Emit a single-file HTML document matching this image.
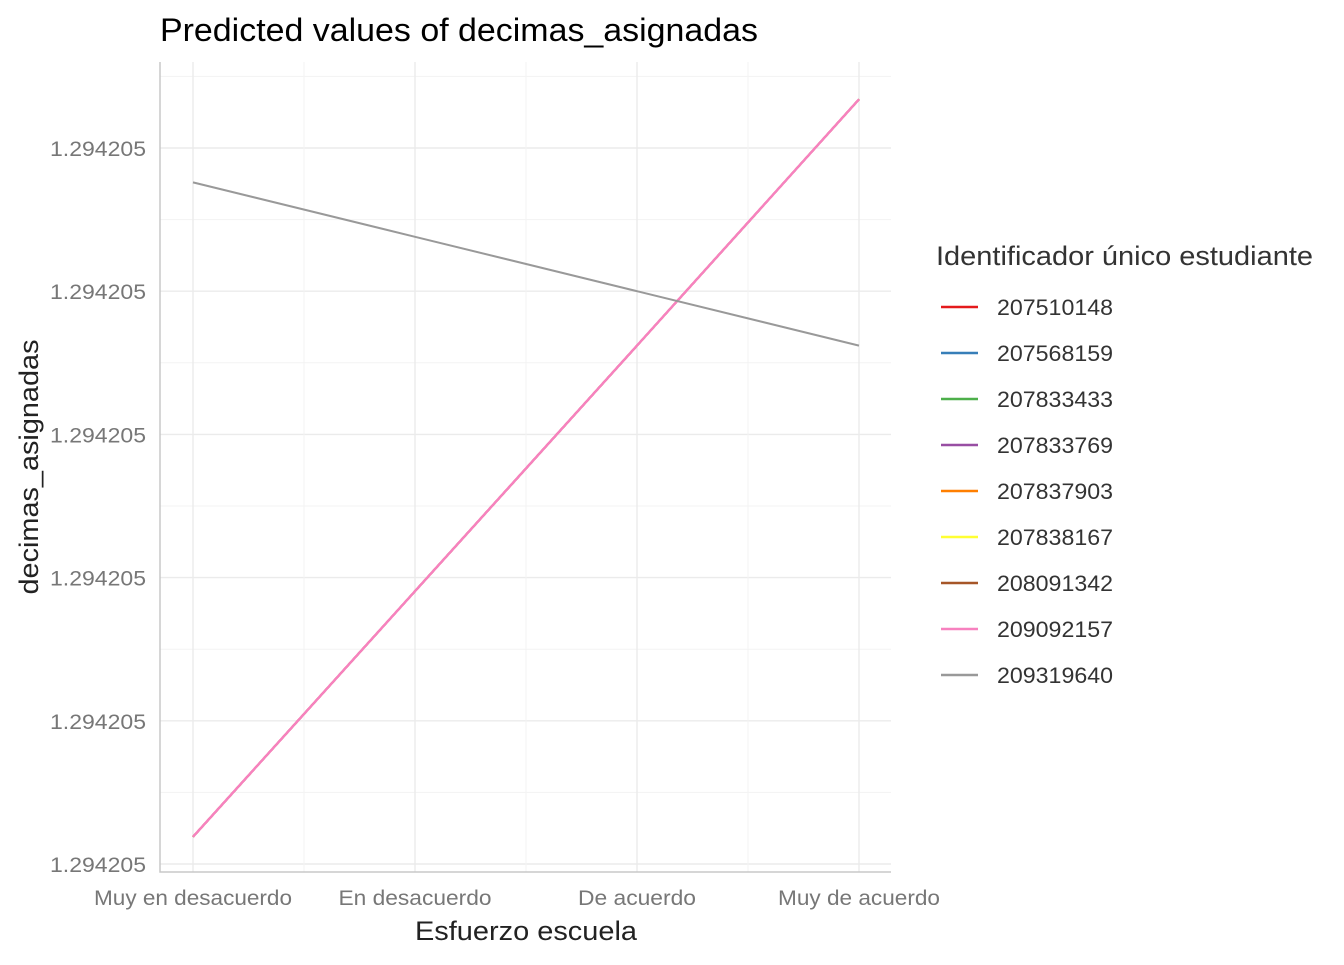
<!DOCTYPE html>
<html><head><meta charset="utf-8"><style>
body{margin:0;background:#fff;font-family:"Liberation Sans",Arial,sans-serif}
svg text{font-family:"Liberation Sans",Arial,sans-serif}
</style></head><body>
<svg id="c" width="1344" height="960" xmlns="http://www.w3.org/2000/svg">
<text x="160" y="41" font-size="32" fill="#000" textLength="598" lengthAdjust="spacingAndGlyphs">Predicted values of decimas_asignadas</text>
<g id="grid"></g>
<g id="axes"></g>
<g id="lines"></g>
<text x="526" y="940" font-size="27" fill="#222" text-anchor="middle" textLength="222" lengthAdjust="spacingAndGlyphs">Esfuerzo escuela</text>
<text transform="translate(38,467) rotate(-90)" font-size="27" fill="#222" text-anchor="middle" textLength="255" lengthAdjust="spacingAndGlyphs">decimas_asignadas</text>
<g id="legend">
<text x="936" y="265" font-size="27" fill="#333" textLength="377" lengthAdjust="spacingAndGlyphs">Identificador único estudiante</text>
</g>
</svg>
<script>
const categories=["Muy en desacuerdo","En desacuerdo","De acuerdo","Muy de acuerdo"];
const categoryWidths=[198,153,118,162];
const yTicks=[0,1,2,3,4,5];
const yTickLabels=["1.294205","1.294205","1.294205","1.294205","1.294205","1.294205"];
const seriesIds=["207510148","207568159","207833433","207833769","207837903","207838167","208091342","209092157","209319640"];
const seriesColors=["#e41a1c","#377eb8","#4daf4a","#984ea3","#ff7f00","#ffff33","#a65628","#f781bf","#999999"];
const pinkValues=[0.19,1.905,3.62,5.34];
const grayValues=[4.76,4.38,4.0,3.62];
const seriesValues=[pinkValues,pinkValues,pinkValues,pinkValues,pinkValues,pinkValues,pinkValues,pinkValues,grayValues];

const NS="http://www.w3.org/2000/svg";
const X0=160,X1=891,Y0=62,Y1=872;
const xs=i=>193+i*222;
const ys=v=>864-v*143.2;
function mk(t,a,p){const e=document.createElementNS(NS,t);for(const k in a)e.setAttribute(k,a[k]);p.appendChild(e);return e;}
const grid=document.getElementById('grid'),axes=document.getElementById('axes'),lines=document.getElementById('lines'),leg=document.getElementById('legend');
for(let i=0;i<yTicks.length;i++){
  const y=ys(yTicks[i]);
  const g=mk('line',{x1:X0,x2:X1,y1:y,y2:y,stroke:'#ebebeb','stroke-width':1.4},grid);
  
  
  if(i<yTicks.length-1){const m=ys(yTicks[i]+0.5);const mg=mk('line',{x1:X0,x2:X1,y1:m,y2:m,stroke:'#f3f3f3','stroke-width':1},grid);
  
  }
  const t=mk('text',{x:146,y:y+8,'font-size':21,fill:'#777','text-anchor':'end',textLength:96,lengthAdjust:'spacingAndGlyphs'},axes);t.textContent=yTickLabels[i];
  
  
}
{const m=ys(5.5);const mg=mk('line',{x1:X0,x2:X1,y1:m,y2:m,stroke:'#f3f3f3','stroke-width':1},grid);

}
for(let i=0;i<categories.length;i++){
  const x=xs(i);
  const g=mk('line',{x1:x,x2:x,y1:Y0,y2:Y1,stroke:'#ebebeb','stroke-width':1.4},grid);
  
  
  if(i<categories.length-1){const mg=mk('line',{x1:x+111,x2:x+111,y1:Y0,y2:Y1,stroke:'#f3f3f3','stroke-width':1},grid);
  
  }
  const t=mk('text',{x:x,y:905,'font-size':21,fill:'#777','text-anchor':'middle',textLength:categoryWidths[i],lengthAdjust:'spacingAndGlyphs'},axes);t.textContent=categories[i];
  
  
}
const ax=mk('path',{d:`M${X0} ${Y0}V${Y1}H${X1}`,fill:'none',stroke:'#c8c8c8','stroke-width':1.5},axes);


for(let s=0;s<seriesIds.length;s++){
  const pts=seriesValues[s].map((v,i)=>xs(i)+','+ys(v)).join(' ');
  const p=mk('polyline',{points:pts,fill:'none',stroke:seriesColors[s],'stroke-width':s===7?2.4:2},lines);
  
  
  const y=307+s*46;
  const k=mk('line',{x1:941,x2:978,y1:y,y2:y,stroke:seriesColors[s],'stroke-width':2.5},leg);
  
  
  const t=mk('text',{x:997,y:y+8,'font-size':22,fill:'#333',textLength:116,lengthAdjust:'spacingAndGlyphs'},leg);t.textContent=seriesIds[s];
  
  
}
</script>
</body></html>
